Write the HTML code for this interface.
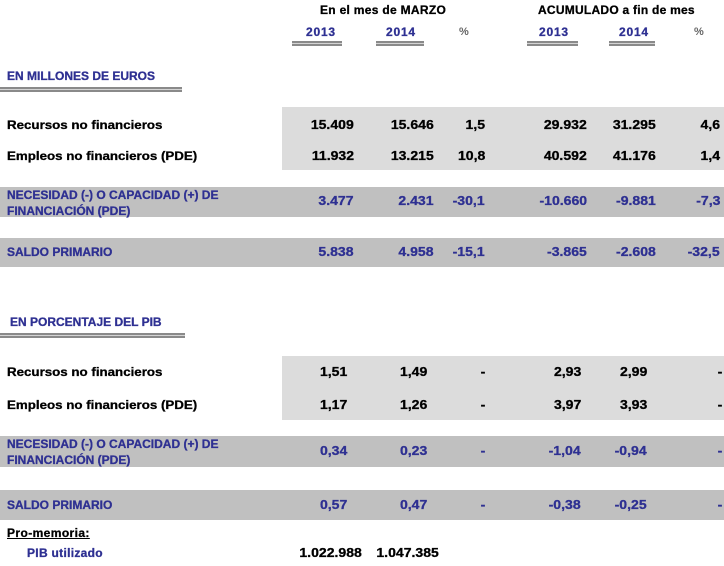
<!DOCTYPE html>
<html>
<head>
<meta charset="utf-8">
<style>
html,body{margin:0;padding:0;background:#fff;}
body{width:724px;height:566px;position:relative;overflow:hidden;font-family:"Liberation Sans",Arial,sans-serif;}
.t{position:absolute;white-space:nowrap;font-weight:bold;font-size:12px;line-height:14px;color:#000;-webkit-text-stroke:0.3px currentColor;}
.lw{transform:scaleX(1.11);transform-origin:0 50%;}
.b{color:#2e3092;}
.n{position:absolute;white-space:nowrap;font-weight:bold;font-size:13px;line-height:14px;text-align:right;color:#000;transform:scaleX(1.08);transform-origin:100% 50%;-webkit-text-stroke:0.3px currentColor;}
.nb{color:#2e3092;}
.band{position:absolute;}
.lg{background:#dcdcdc;}
.dg{background:#c0c0c0;}
.ul{position:absolute;height:1px;border-top:2px solid #8a8a8a;border-bottom:2px solid #8a8a8a;background:#d4d4d4;}
.pc{color:#666;font-size:11px;-webkit-text-stroke:0;}
</style>
</head>
<body>
<!-- bands -->
<div class="band lg" style="left:282px;top:107px;width:442px;height:63px;"></div>
<div class="band dg" style="left:0;top:187px;width:724px;height:30px;"></div>
<div class="band dg" style="left:0;top:238px;width:724px;height:29px;"></div>
<div class="band lg" style="left:282px;top:356px;width:442px;height:64px;"></div>
<div class="band dg" style="left:0;top:436px;width:724px;height:31px;"></div>
<div class="band dg" style="left:0;top:490px;width:724px;height:30px;"></div>

<!-- headers -->
<div class="t" style="left:320px;top:3px;letter-spacing:0.3px;">En el mes de MARZO</div>
<div class="t" style="left:538px;top:3px;letter-spacing:0.25px;">ACUMULADO a fin de mes</div>
<div class="t b" style="left:306px;top:25px;letter-spacing:0.8px;">2013</div>
<div class="t b" style="left:386px;top:25px;letter-spacing:0.8px;">2014</div>
<div class="t pc" style="left:459px;top:25px;">%</div>
<div class="t b" style="left:539px;top:25px;letter-spacing:0.8px;">2013</div>
<div class="t b" style="left:619px;top:25px;letter-spacing:0.8px;">2014</div>
<div class="t pc" style="left:694px;top:25px;">%</div>
<div class="ul" style="left:292px;top:41px;width:50px;"></div>
<div class="ul" style="left:376px;top:41px;width:48px;"></div>
<div class="ul" style="left:527px;top:41px;width:51px;"></div>
<div class="ul" style="left:609px;top:41px;width:46px;"></div>

<!-- section 1 -->
<div class="t b" style="left:7px;top:69px;">EN MILLONES DE EUROS</div>
<div class="ul" style="left:0;top:87px;width:182px;"></div>

<div class="t lw" style="left:7px;top:118px;">Recursos no financieros</div>
<div class="n" style="right:370px;top:118px;">15.409</div>
<div class="n" style="right:290px;top:118px;">15.646</div>
<div class="n" style="right:239px;top:118px;">1,5</div>
<div class="n" style="right:137px;top:118px;">29.932</div>
<div class="n" style="right:68px;top:118px;">31.295</div>
<div class="n" style="right:4px;top:118px;">4,6</div>

<div class="t lw" style="left:7px;top:149px;">Empleos no financieros (PDE)</div>
<div class="n" style="right:370px;top:149px;">11.932</div>
<div class="n" style="right:290px;top:149px;">13.215</div>
<div class="n" style="right:239px;top:149px;">10,8</div>
<div class="n" style="right:137px;top:149px;">40.592</div>
<div class="n" style="right:68px;top:149px;">41.176</div>
<div class="n" style="right:4px;top:149px;">1,4</div>

<div class="t b" style="left:7px;top:187px;line-height:16px;">NECESIDAD (-) O CAPACIDAD (+) DE<br>FINANCIACIÓN (PDE)</div>
<div class="n nb" style="right:370px;top:194px;">3.477</div>
<div class="n nb" style="right:290px;top:194px;">2.431</div>
<div class="n nb" style="right:239px;top:194px;">-30,1</div>
<div class="n nb" style="right:137px;top:194px;">-10.660</div>
<div class="n nb" style="right:68px;top:194px;">-9.881</div>
<div class="n nb" style="right:4px;top:194px;">-7,3</div>

<div class="t b" style="left:7px;top:245px;">SALDO PRIMARIO</div>
<div class="n nb" style="right:370px;top:245px;">5.838</div>
<div class="n nb" style="right:290px;top:245px;">4.958</div>
<div class="n nb" style="right:239px;top:245px;">-15,1</div>
<div class="n nb" style="right:137px;top:245px;">-3.865</div>
<div class="n nb" style="right:68px;top:245px;">-2.608</div>
<div class="n nb" style="right:4px;top:245px;">-32,5</div>

<!-- section 2 -->
<div class="t b" style="left:10px;top:315px;">EN PORCENTAJE DEL PIB</div>
<div class="ul" style="left:0;top:333px;width:185px;"></div>

<div class="t lw" style="left:7px;top:365px;">Recursos no financieros</div>
<div class="n" style="right:377px;top:365px;">1,51</div>
<div class="n" style="right:297px;top:365px;">1,49</div>
<div class="n" style="right:239px;top:365px;">-</div>
<div class="n" style="right:143px;top:365px;">2,93</div>
<div class="n" style="right:77px;top:365px;">2,99</div>
<div class="n" style="right:2px;top:365px;">-</div>

<div class="t lw" style="left:7px;top:398px;">Empleos no financieros (PDE)</div>
<div class="n" style="right:377px;top:398px;">1,17</div>
<div class="n" style="right:297px;top:398px;">1,26</div>
<div class="n" style="right:239px;top:398px;">-</div>
<div class="n" style="right:143px;top:398px;">3,97</div>
<div class="n" style="right:77px;top:398px;">3,93</div>
<div class="n" style="right:2px;top:398px;">-</div>

<div class="t b" style="left:7px;top:436px;line-height:16px;">NECESIDAD (-) O CAPACIDAD (+) DE<br>FINANCIACIÓN (PDE)</div>
<div class="n nb" style="right:377px;top:444px;">0,34</div>
<div class="n nb" style="right:297px;top:444px;">0,23</div>
<div class="n nb" style="right:239px;top:444px;">-</div>
<div class="n nb" style="right:143px;top:444px;">-1,04</div>
<div class="n nb" style="right:77px;top:444px;">-0,94</div>
<div class="n nb" style="right:2px;top:444px;">-</div>

<div class="t b" style="left:7px;top:498px;">SALDO PRIMARIO</div>
<div class="n nb" style="right:377px;top:498px;">0,57</div>
<div class="n nb" style="right:297px;top:498px;">0,47</div>
<div class="n nb" style="right:239px;top:498px;">-</div>
<div class="n nb" style="right:143px;top:498px;">-0,38</div>
<div class="n nb" style="right:77px;top:498px;">-0,25</div>
<div class="n nb" style="right:2px;top:498px;">-</div>

<div class="t" style="left:7px;top:526px;letter-spacing:0.4px;text-decoration:underline;">Pro-memoria:</div>
<div class="t b" style="left:27px;top:546px;letter-spacing:0.3px;">PIB utilizado</div>
<div class="n" style="right:362px;top:546px;">1.022.988</div>
<div class="n" style="right:285px;top:546px;">1.047.385</div>
</body>
</html>
